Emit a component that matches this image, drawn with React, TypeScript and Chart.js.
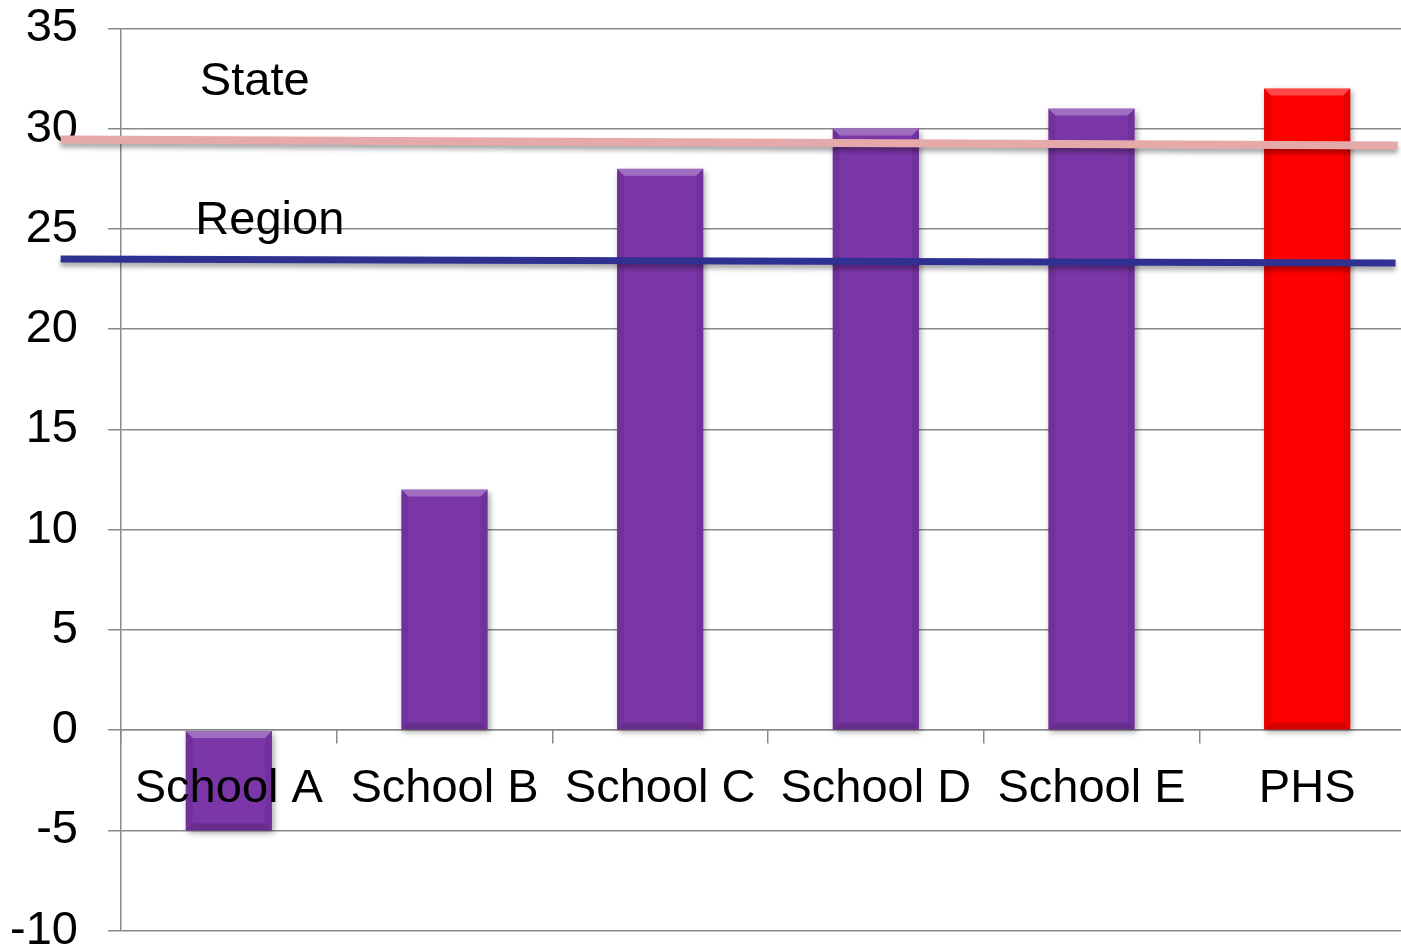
import React, { useEffect, useRef } from 'react';
import { Chart, registerables } from 'chart.js';

Chart.register(...registerables);

// ---- data ----
const categories = ['School A', 'School B', 'School C', 'School D', 'School E', 'PHS'];
const values = [-5, 12, 28, 30, 31, 32];
const barColors = ['#7B36A8', '#7B36A8', '#7B36A8', '#7B36A8', '#7B36A8', '#FF0000'];
const yTicks = [-10, -5, 0, 5, 10, 15, 20, 25, 30, 35];

// reference lines (x in category-index units, y in data units)
const stateLineX = [-0.78, 5.42];
const stateLineY = [29.45, 29.15];
const regionLineX = [-0.78, 5.41];
const regionLineY = [23.5, 23.3];

// text notes
const noteLabels = ['State', 'Region'];
const noteX = [0.12, 0.19];
const noteY = [32.3, 25.4];

const FONT = '"Liberation Sans", Arial, Helvetica, sans-serif';
const GRID = '#898989';

const shadowBevelPlugin = {
  id: 'shadowBevel',
  beforeDatasetDraw(chart: any, args: any) {
    const ctx = chart.ctx;
    ctx.save();
    const isBar = args.meta.type === 'bar';
    ctx.shadowColor = 'rgba(0,0,0,0.35)';
    ctx.shadowBlur = isBar ? 6 : 5;
    ctx.shadowOffsetX = isBar ? 2 : 0;
    ctx.shadowOffsetY = isBar ? 3 : 4;
  },
  afterDatasetDraw(chart: any, args: any) {
    const ctx = chart.ctx;
    ctx.restore();
    if (args.meta.type !== 'bar') return;
    ctx.save();
    const b = 7;
    args.meta.data.forEach((el: any) => {
      const p = el.getProps(['x', 'y', 'base', 'width'], true);
      const left = p.x - p.width / 2;
      const right = p.x + p.width / 2;
      const top = Math.min(p.y, p.base);
      const bottom = Math.max(p.y, p.base);
      ctx.fillStyle = 'rgba(255,255,255,0.28)';
      ctx.beginPath();
      ctx.moveTo(left, top);
      ctx.lineTo(right, top);
      ctx.lineTo(right - b, top + b);
      ctx.lineTo(left + b, top + b);
      ctx.closePath();
      ctx.fill();
      ctx.fillStyle = 'rgba(0,0,0,0.08)';
      ctx.beginPath();
      ctx.moveTo(left, top);
      ctx.lineTo(left + b, top + b);
      ctx.lineTo(left + b, bottom - b);
      ctx.lineTo(left, bottom);
      ctx.closePath();
      ctx.fill();
      ctx.beginPath();
      ctx.moveTo(right, top);
      ctx.lineTo(right - b, top + b);
      ctx.lineTo(right - b, bottom - b);
      ctx.lineTo(right, bottom);
      ctx.closePath();
      ctx.fill();
      ctx.fillStyle = 'rgba(0,0,0,0.16)';
      ctx.beginPath();
      ctx.moveTo(left, bottom);
      ctx.lineTo(right, bottom);
      ctx.lineTo(right - b, bottom - b);
      ctx.lineTo(left + b, bottom - b);
      ctx.closePath();
      ctx.fill();
    });
    ctx.restore();
  },
};

const notesPlugin = {
  id: 'notes',
  afterDatasetsDraw(chart: any) {
    const ctx = chart.ctx;
    const xs = chart.scales.xl;
    const ys = chart.scales.y;
    ctx.save();
    ctx.font = `47px ${FONT}`;
    ctx.fillStyle = '#000';
    ctx.textAlign = 'center';
    ctx.textBaseline = 'middle';
    noteLabels.forEach((t, i) => {
      ctx.fillText(t, xs.getPixelForValue(noteX[i]), ys.getPixelForValue(noteY[i]));
    });
    ctx.restore();
  },
};

export default function App() {
  const ref = useRef<HTMLCanvasElement>(null);

  useEffect(() => {
    const chart = new Chart(ref.current as HTMLCanvasElement, {
      type: 'bar',
      data: {
        labels: categories,
        datasets: [
          {
            type: 'bar',
            data: values,
            backgroundColor: barColors,
            borderWidth: 0,
            barPercentage: 0.4,
            categoryPercentage: 1,
            grouped: false,
            order: 2,
            xAxisID: 'x',
            yAxisID: 'y',
          } as any,
          {
            type: 'line',
            data: stateLineX.map((x, i) => ({ x, y: stateLineY[i] })),
            borderColor: '#E6A9A9',
            borderWidth: 8,
            pointRadius: 0,
            clip: false,
            borderCapStyle: 'butt',
            order: 1,
            xAxisID: 'xl',
            yAxisID: 'y',
          } as any,
          {
            type: 'line',
            data: regionLineX.map((x, i) => ({ x, y: regionLineY[i] })),
            borderColor: '#2E3192',
            borderWidth: 7,
            pointRadius: 0,
            clip: false,
            borderCapStyle: 'butt',
            order: 1,
            xAxisID: 'xl',
            yAxisID: 'y',
          } as any,
        ],
      },
      options: {
        responsive: false,
        devicePixelRatio: 1,
        animation: false,
        layout: { padding: { left: 0, top: 28.3, right: 25, bottom: 49.3 } },
        plugins: { legend: { display: false }, tooltip: { enabled: false } },
        scales: {
          x: {
            type: 'category',
            position: { y: 0 } as any,
            offset: true,
            grid: {
              display: true,
              drawOnChartArea: false,
              drawTicks: true,
              tickLength: 13,
              color: GRID,
              lineWidth: 1.5,
              offset: true,
            },
            border: { display: true, color: GRID, width: 1.5 },
            ticks: {
              z: 1,
              font: { family: FONT, size: 47 },
              color: '#000',
              padding: 17.5,
              maxRotation: 0,
              minRotation: 0,
              autoSkip: false,
            },
          },
          xl: {
            type: 'linear',
            display: false,
            offset: false,
            grid: { offset: false },
            min: -0.5,
            max: categories.length - 0.5,
          },
          y: {
            type: 'linear',
            position: 'left',
            min: yTicks[0],
            max: yTicks[yTicks.length - 1],
            afterFit: (scale: any) => {
              scale.width = 121;
              scale.paddingTop = 0;
              scale.paddingBottom = 0;
            },
            grid: {
              color: GRID,
              lineWidth: 1.5,
              drawTicks: true,
              tickLength: 13,
            },
            border: { display: true, color: GRID, width: 1.5 },
            ticks: {
              stepSize: yTicks[1] - yTicks[0],
              font: { family: FONT, size: 47 },
              color: '#000',
              padding: 30,
            },
          },
        },
      } as any,
      plugins: [shadowBevelPlugin, notesPlugin],
    });
    return () => chart.destroy();
  }, []);

  return (
    <div
      style={{
        position: 'fixed',
        left: 0,
        top: 0,
        width: 1401,
        height: 951,
        overflow: 'hidden',
        background: '#fff',
      }}
    >
      <canvas ref={ref} width={1440} height={980} style={{ display: 'block', width: 1440, height: 980 }} />
    </div>
  );
}
